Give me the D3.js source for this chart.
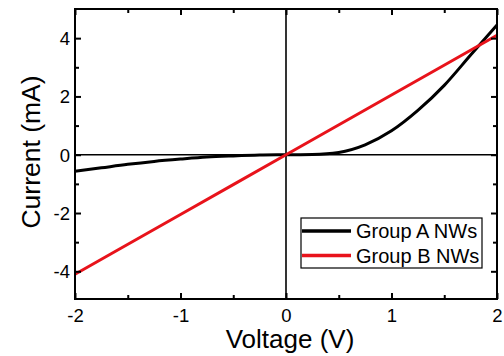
<!DOCTYPE html>
<html>
<head>
<meta charset="utf-8">
<script src="https://cdn.jsdelivr.net/npm/d3@7"></script>
<style>
  body { margin: 0; background: #fff; }
  svg { display: block; }
  svg text { font-family: "Liberation Sans", Arial, sans-serif; }
</style>
</head>
<body>
<svg id="chart" width="504" height="356"></svg>
<script>
// voltage samples (V)
const voltageA = [-2, -1.75, -1.5, -1.25, -1, -0.75, -0.5, -0.25, 0, 0.25, 0.5, 0.75, 1, 1.25, 1.5, 1.75, 2];
// Group A current (mA)
const currentA = [-0.57, -0.45, -0.33, -0.23, -0.15, -0.08, -0.04, -0.01, 0, 0.01, 0.08, 0.34, 0.82, 1.52, 2.38, 3.42, 4.45];
// Group B is a straight ohmic line
const voltageB = [-2, -1, 0, 1, 2];
const currentB = [-4.1, -2.05, 0, 2.05, 4.1];

const seriesNames = ['Group A NWs', 'Group B NWs'];
const seriesColors = ['#000000', '#e8131b'];
const xTicks = [-2, -1, 0, 1, 2];
const yTicks = [-4, -2, 0, 2, 4];

const svg = d3.select('#chart');
const pLeft = 75, pRight = 497, pTop = 9, pBottom = 299;

const x = d3.scaleLinear().domain([-2, 2]).range([pLeft, pRight]);
const y = d3.scaleLinear().domain([-4.95, 5]).range([pBottom, pTop]);

const g = svg.append('g');

// zero lines
g.append('line')
  .attr('x1', x(-2)).attr('x2', x(2))
  .attr('y1', y(0)).attr('y2', y(0))
  .attr('stroke', '#000').attr('stroke-width', 1.6);
g.append('line')
  .attr('x1', x(0)).attr('x2', x(0))
  .attr('y1', pTop).attr('y2', pBottom)
  .attr('stroke', '#000').attr('stroke-width', 1.6);

// curves
const dataA = voltageA.map((v, i) => [v, currentA[i]]);
const dataB = voltageB.map((v, i) => [v, currentB[i]]);

const line = d3.line()
  .x(d => x(d[0]))
  .y(d => y(d[1]))
  .curve(d3.curveMonotoneX);

g.append('path')
  .datum(dataA)
  .attr('d', line)
  .attr('fill', 'none')
  .attr('stroke', seriesColors[0])
  .attr('stroke-width', 3);

g.append('path')
  .datum(dataB)
  .attr('d', line)
  .attr('fill', 'none')
  .attr('stroke', seriesColors[1])
  .attr('stroke-width', 3);

// axes, ticks pointing inward, mirrored on top/right
const xMinor = d3.range(-1.5, 2, 1);
const yMinor = d3.range(-3, 5, 2);
const plain = d => String(d); // plain hyphen minus like the original

function styleAxis(sel) {
  sel.select('.domain').remove();
  sel.attr('font-family', null);
  sel.selectAll('line').attr('stroke', '#000').attr('stroke-width', 2);
  sel.selectAll('text').attr('font-size', 18.5).attr('fill', '#000');
}

const xBottom = svg.append('g').attr('transform', `translate(0,${pBottom})`)
  .call(d3.axisBottom(x).tickValues(xTicks).tickSizeInner(-6).tickSizeOuter(0).tickFormat(plain));
styleAxis(xBottom);
xBottom.selectAll('text').attr('dy', null).attr('y', 23);
svg.append('g').attr('transform', `translate(0,${pBottom})`)
  .call(d3.axisBottom(x).tickValues(xMinor).tickSize(-4).tickFormat(''))
  .call(styleAxis);

svg.append('g').attr('transform', `translate(0,${pTop})`)
  .call(d3.axisTop(x).tickValues(xTicks).tickSize(-6).tickFormat(''))
  .call(styleAxis);
svg.append('g').attr('transform', `translate(0,${pTop})`)
  .call(d3.axisTop(x).tickValues(xMinor).tickSize(-4).tickFormat(''))
  .call(styleAxis);

const yLeft = svg.append('g').attr('transform', `translate(${pLeft},0)`)
  .call(d3.axisLeft(y).tickValues(yTicks).tickSizeInner(-6).tickSizeOuter(0).tickFormat(plain));
styleAxis(yLeft);
yLeft.selectAll('text').attr('x', -5).attr('dy', '0.35em');
svg.append('g').attr('transform', `translate(${pLeft},0)`)
  .call(d3.axisLeft(y).tickValues(yMinor).tickSize(-4).tickFormat(''))
  .call(styleAxis);

svg.append('g').attr('transform', `translate(${pRight},0)`)
  .call(d3.axisRight(y).tickValues(yTicks).tickSize(-6).tickFormat(''))
  .call(styleAxis);
svg.append('g').attr('transform', `translate(${pRight},0)`)
  .call(d3.axisRight(y).tickValues(yMinor).tickSize(-4).tickFormat(''))
  .call(styleAxis);

// frame
svg.append('rect')
  .attr('x', pLeft).attr('y', pTop)
  .attr('width', pRight - pLeft).attr('height', pBottom - pTop)
  .attr('fill', 'none').attr('stroke', '#000').attr('stroke-width', 2);

// axis titles
svg.append('text')
  .attr('x', 290).attr('y', 348)
  .attr('text-anchor', 'middle')
  .attr('font-size', 26)
  .text('Voltage (V)');

svg.append('text')
  .attr('transform', `translate(40,152) rotate(-90)`)
  .attr('text-anchor', 'middle')
  .attr('font-size', 26.5)
  .text('Current (mA)');

// legend
const legend = svg.append('g').attr('transform', 'translate(301,218)');
legend.append('rect')
  .attr('width', 181).attr('height', 50)
  .attr('fill', '#fff').attr('stroke', '#000').attr('stroke-width', 1.2);

seriesNames.forEach((name, i) => {
  const row = legend.append('g').attr('transform', `translate(0,${13 + i * 24.5})`);
  row.append('line')
    .attr('x1', 1).attr('x2', 50)
    .attr('stroke', seriesColors[i]).attr('stroke-width', 3.5);
  row.append('text')
    .attr('x', 55).attr('dy', '0.35em')
    .attr('font-size', 20)
    .text(name);
});
</script>
</body>
</html>
